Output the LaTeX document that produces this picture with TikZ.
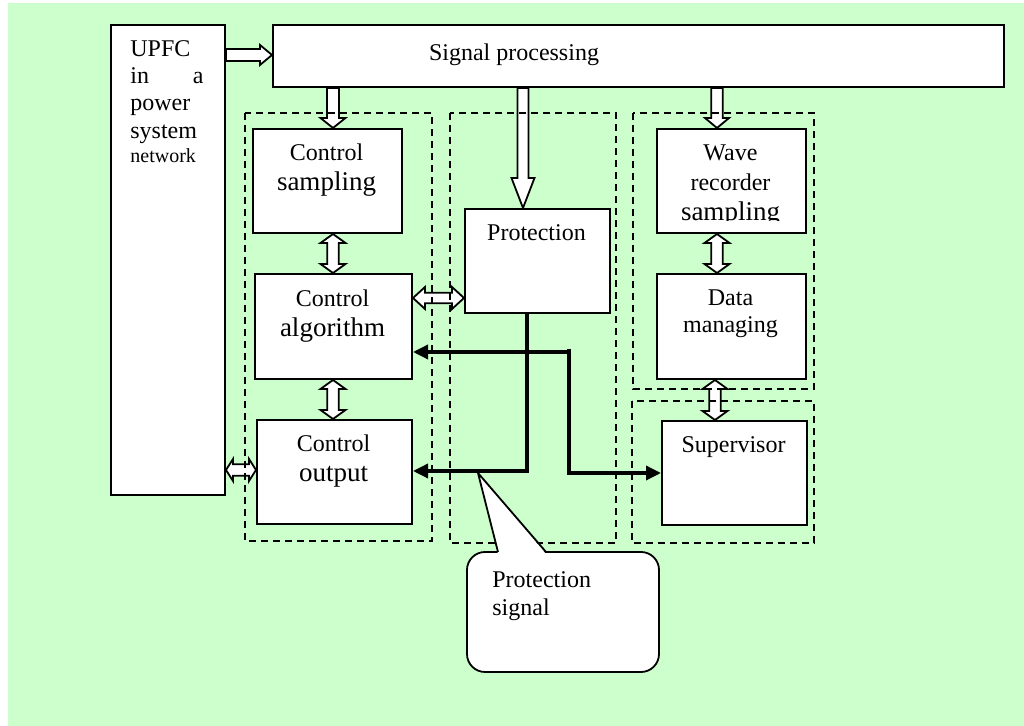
\documentclass[tikz,border=0pt]{standalone}
\usepackage{fontspec}
\setmainfont{Liberation Serif}
\usetikzlibrary{calc,arrows.meta}
\definecolor{bg}{HTML}{CCFFCC}
\pgfdeclarelayer{back}
\pgfdeclarelayer{mid}
\pgfsetlayers{back,mid,main}
\tikzset{
 box/.style={draw, line width=1pt, fill=white, inner sep=0pt, anchor=north west},
 grp/.style={draw, line width=0.8pt, dash pattern=on 3.5pt off 2.5pt},
 hollow/.style={draw, line width=0.9pt, fill=white, line join=miter},
 sigline/.style={line width=1.7pt, -{Triangle[length=7.5pt,width=7pt]}},
 txt/.style={inner sep=0pt, anchor=base, font=\fontsize{12}{14}\selectfont},
 bigtxt/.style={inner sep=0pt, anchor=base, font=\fontsize{13.5}{15}\selectfont},
 smalltxt/.style={inner sep=0pt, anchor=base west, font=\fontsize{10}{12}\selectfont},
}
% single hollow arrow: from, to, shaft half width, head half width, head length
\newcommand\OneArrow[5]{%
 \path (#1) coordinate (pA) (#2) coordinate (pB);
 \path ($(pB)!#5!(pA)$) coordinate (hB);
 \draw[hollow] ($(pA)!#3!90:(pB)$) -- ($(hB)!#3!-90:(pA)$) -- ($(hB)!#4!-90:(pA)$) -- (pB)
   -- ($(hB)!#4!90:(pA)$) -- ($(hB)!#3!90:(pA)$) -- ($(pA)!#3!-90:(pB)$) -- cycle;}
% double hollow arrow
\newcommand\TwoArrow[5]{%
 \path (#1) coordinate (pA) (#2) coordinate (pB);
 \path ($(pA)!#5!(pB)$) coordinate (hA) ($(pB)!#5!(pA)$) coordinate (hB);
 \draw[hollow] (pA) -- ($(hA)!#4!90:(pB)$) -- ($(hA)!#3!90:(pB)$) -- ($(hB)!#3!-90:(pA)$)
   -- ($(hB)!#4!-90:(pA)$) -- (pB) -- ($(hB)!#4!90:(pA)$) -- ($(hB)!#3!90:(pA)$)
   -- ($(hA)!#3!-90:(pB)$) -- ($(hA)!#4!-90:(pB)$) -- cycle;}
\begin{document}
\begin{tikzpicture}[x=0.5pt,y=-0.5pt]
\useasboundingbox (0,0) rectangle (1024,726);
\begin{pgfonlayer}{back}
\fill[white] (0,0) rectangle (1024,726);
\fill[bg] (8,3) rectangle (1024,726);
\end{pgfonlayer}

% boxes
\node[box, minimum width=57pt, minimum height=235pt] (upfc) at (110,24) {};
\node[box, minimum width=365.5pt, minimum height=31pt] (sig) at (272,24) {};
\node[box, minimum width=74.5pt, minimum height=52pt] (cs) at (252,128) {};
\node[box, minimum width=78.5pt, minimum height=52.5pt] (ca) at (254,273) {};
\node[box, minimum width=77.5pt, minimum height=52pt] (co) at (256,419) {};
\node[box, minimum width=72.5pt, minimum height=52pt] (prot) at (464,208) {};
\node[box, minimum width=74.5pt, minimum height=52pt] (wave) at (656,128) {};
\node[box, minimum width=74.5pt, minimum height=52.5pt] (data) at (656,273) {};
\node[box, minimum width=72.5pt, minimum height=52pt] (sup) at (661,420) {};

% texts
\node[txt] (tsig) at (514,61) {Signal processing};
\node[txt, anchor=base west] (tu1) at (130,57) {UPFC};
\node[txt, anchor=base west] (tu2) at (130,84) {in};
\node[txt, anchor=base east] (tu3) at (204,84) {a};
\node[txt, anchor=base west] (tu4) at (130,111) {power};
\node[txt, anchor=base west] (tu5) at (130,139) {system};
\node[smalltxt] (tu6) at (130,163) {network};
\node[txt] (tcs1) at (326.5,161) {Control};
\node[bigtxt] (tcs2) at (326.5,191) {sampling};
\node[txt] (tca1) at (332.5,307) {Control};
\node[bigtxt] (tca2) at (332.5,337) {algorithm};
\node[txt] (tco1) at (333.5,452) {Control};
\node[bigtxt] (tco2) at (333.5,482) {output};
\node[txt] (tpr) at (536.5,241) {Protection};
\node[txt] (tw1) at (730.5,161) {Wave};
\node[txt] (tw2) at (730.5,191) {recorder};
\begin{scope}
\clip (656,200) rectangle (805,221);
\node[bigtxt] (tw3) at (730.5,221) {sampling};
\end{scope}
\node[txt] (td1) at (730.5,306) {Data};
\node[txt] (td2) at (730.5,333) {managing};
\node[txt] (tsu) at (733.5,453) {Supervisor};

% axis helper coordinates
\coordinate (ay1) at (0,55);
\coordinate (ax2) at (333,0);
\coordinate (ax3) at (523,0);
\coordinate (ax4) at (717,0);
\coordinate (ax6) at (715,0);
\coordinate (ay7) at (0,298);
\coordinate (ay8) at (0,470);

\begin{pgfonlayer}{mid}
\OneArrow{upfc.east |- ay1}{sig.west |- ay1}{3pt}{5pt}{6pt}
\OneArrow{sig.south -| ax2}{cs.north -| ax2}{3pt}{6.25pt}{5pt}
\OneArrow{sig.south -| ax3}{prot.north -| ax3}{2.75pt}{5.75pt}{15pt}
\OneArrow{sig.south -| ax4}{wave.north -| ax4}{2.9pt}{6pt}{5pt}
\TwoArrow{cs.south -| ax2}{ca.north -| ax2}{2.9pt}{6.25pt}{4.5pt}
\TwoArrow{wave.south -| ax4}{data.north -| ax4}{2.9pt}{6.25pt}{4.5pt}
\TwoArrow{ca.south -| ax2}{co.north -| ax2}{2.9pt}{6.25pt}{4.5pt}
\TwoArrow{data.south -| ax6}{sup.north -| ax6}{2.9pt}{6.25pt}{4.5pt}
\TwoArrow{ca.east |- ay7}{prot.west |- ay7}{2.6pt}{5.5pt}{6pt}
\TwoArrow{upfc.east |- ay8}{co.west |- ay8}{2.9pt}{5.5pt}{3.5pt}
% dashed groups
\draw[grp] (245,113) rectangle (432,541);
\draw[grp] (450,113) rectangle (616,543);
\draw[grp] (633,113) rectangle (814,389);
\draw[grp] (632,401) rectangle (814,543);
\end{pgfonlayer}

% protection signal lines
\coordinate (pd) at (527,471);
\coordinate (j0) at (569,349);
\coordinate (j1) at (569,352);
\coordinate (j2) at (569,473);
\draw[sigline] (prot.south -| pd) -- (pd) -- (co.east |- pd);
\draw[sigline] (j1) -- (ca.east |- j1);
\draw[sigline] (j0) -- (j2) -- (sup.west |- j2);

% callout
\draw[line width=0.9pt, fill=white, rounded corners=9pt] (467,552) rectangle (659,672);
\coordinate (tip) at (478,473);
\coordinate (bl) at (498,552);
\coordinate (br) at (546,552);
\fill[white] (tip) -- ($(bl)+(0,2)$) -- ($(br)+(0,2)$) -- cycle;
\draw[line width=0.9pt, line join=miter] (bl) -- (tip) -- (br);
\node[txt, anchor=base west] (tc1) at (492,588) {Protection};
\node[txt, anchor=base west] (tc2) at (492,616) {signal};
\end{tikzpicture}
\end{document}
